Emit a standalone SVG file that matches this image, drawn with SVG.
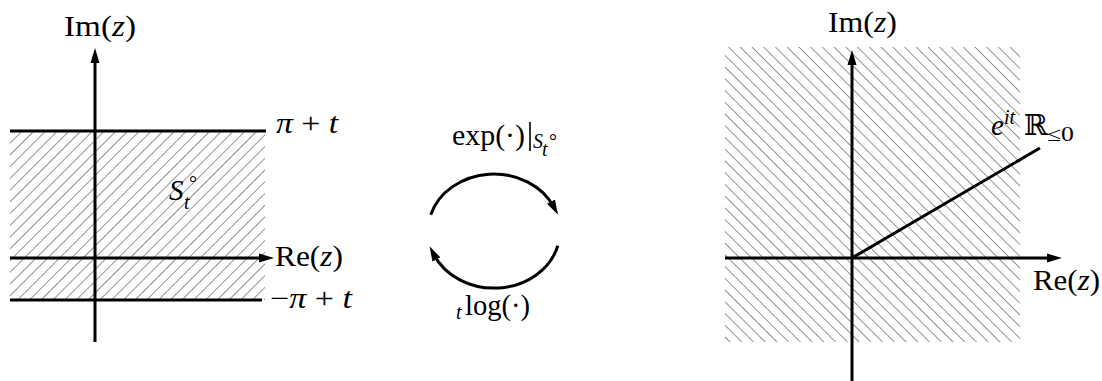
<svg xmlns="http://www.w3.org/2000/svg" width="1102" height="381" viewBox="0 0 1102 381">
<style>
.ax{stroke:#000;stroke-width:3;fill:none}
.t{font-family:"Liberation Serif","DejaVu Serif",serif;font-size:29px;fill:#000}
.s{font-family:"Liberation Serif","DejaVu Serif",serif;font-size:20px;fill:#000}
.i{font-style:italic}
</style>
<defs>
<marker id="ah" markerUnits="userSpaceOnUse" markerWidth="16" markerHeight="10" refX="6" refY="5" orient="auto">
<path d="M0,0.5 L15,5 L0,9.5 z" fill="#000"/>
</marker>
<pattern id="hatchL" patternUnits="userSpaceOnUse" width="8.3" height="8.3" patternTransform="rotate(45)">
<line x1="0" y1="0" x2="0" y2="8.3" stroke="#3a3a3a" stroke-width="1.1"/>
</pattern>
<pattern id="hatchR" patternUnits="userSpaceOnUse" width="8.3" height="8.3" patternTransform="rotate(-45)">
<line x1="0" y1="0" x2="0" y2="8.3" stroke="#3a3a3a" stroke-width="1.1"/>
</pattern>
</defs>

<g id="left-plane">
<rect x="10" y="131" width="255" height="169" fill="url(#hatchL)"/>
<line class="ax" x1="10" y1="131" x2="266" y2="131"/>
<line class="ax" x1="10" y1="300" x2="262" y2="300"/>
<line class="ax" x1="10" y1="258" x2="265" y2="258" marker-end="url(#ah)"/>
<line class="ax" x1="95" y1="342" x2="95" y2="57" marker-end="url(#ah)"/>
<text class="t" x="64" y="36" textLength="72" lengthAdjust="spacingAndGlyphs">Im(<tspan class="i">z</tspan>)</text>
<text class="t" x="276" y="133" textLength="62" lengthAdjust="spacingAndGlyphs"><tspan class="i">π</tspan> + <tspan class="i">t</tspan></text>
<text class="t i" x="169" y="200">S</text>
<text class="s i" x="184" y="209">t</text>
<text class="s" x="189" y="190">°</text>
<text class="t" x="275" y="266" textLength="68" lengthAdjust="spacingAndGlyphs">Re(<tspan class="i">z</tspan>)</text>
<text class="t" x="270" y="308" textLength="82" lengthAdjust="spacingAndGlyphs">−<tspan class="i">π</tspan> + <tspan class="i">t</tspan></text>
</g>

<g id="middle-maps">
<text class="t" x="452" y="145" textLength="73" lengthAdjust="spacingAndGlyphs">exp(·)</text>
<line x1="530" y1="122" x2="530" y2="151" stroke="#000" stroke-width="1.6"/>
<text class="s i" x="533" y="148" font-size="21">S</text>
<text class="s i" x="542" y="156" font-size="15">t</text>
<text class="s" x="549" y="148" font-size="17">°</text>
<text class="s i" x="456" y="319">t</text>
<text class="t" x="465" y="315" textLength="65" lengthAdjust="spacingAndGlyphs">log(·)</text>
</g>

<g id="connectors">
<path class="ax" d="M430.7,214.8 A66,57 0 0 1 553.8,206.9" marker-end="url(#ah)"/>
<path class="ax" d="M557.8,245.8 A66,57 0 0 1 433.7,254.2" marker-end="url(#ah)"/>
</g>

<g id="right-plane">
<rect x="725" y="47" width="295" height="295" fill="url(#hatchR)"/>
<line class="ax" x1="725" y1="258" x2="1053" y2="258" marker-end="url(#ah)"/>
<line class="ax" x1="852" y1="381" x2="852" y2="59" marker-end="url(#ah)"/>
<line class="ax" x1="852" y1="258" x2="1040" y2="148"/>
<text class="t" x="828" y="32" textLength="69" lengthAdjust="spacingAndGlyphs">Im(<tspan class="i">z</tspan>)</text>
<text class="t" x="1033" y="290" textLength="67" lengthAdjust="spacingAndGlyphs">Re(<tspan class="i">z</tspan>)</text>
<text class="t i" x="991" y="135">e</text>
<text class="s i" x="1004" y="124" font-size="19">it</text>
<text class="t" x="1024" y="135" font-size="27">ℝ</text>
<text class="s" x="1047" y="141" font-size="21" textLength="27" lengthAdjust="spacingAndGlyphs">≤0</text>
</g>
</svg>
